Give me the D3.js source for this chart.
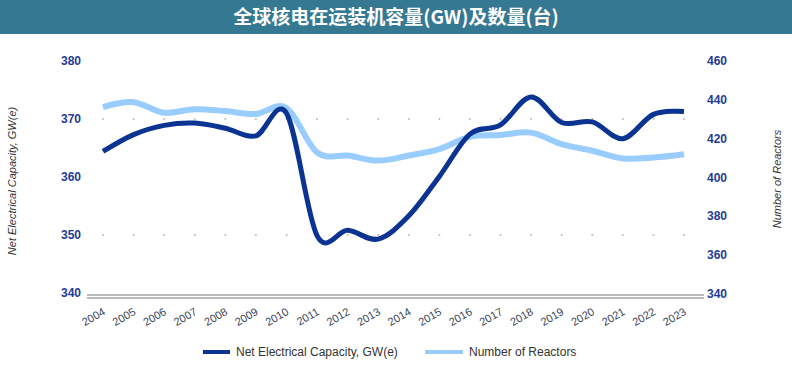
<!DOCTYPE html>
<html>
<head>
<meta charset="utf-8">
<script src="https://cdn.jsdelivr.net/npm/d3@7"></script>
<style>
  body { margin: 0; background: #fff; }
  svg { display: block; font-family: Arial, "Liberation Sans", sans-serif; }
</style>
</head>
<body>
<div id="chart"></div>
<script>
// data
const years = ["2004","2005","2006","2007","2008","2009","2010","2011","2012","2013",
               "2014","2015","2016","2017","2018","2019","2020","2021","2022","2023"];
const capacity = [364.4, 367.3, 368.9, 369.3, 368.4, 367.1, 371.0, 349.9, 350.8, 349.3,
                  353.3, 360.1, 367.4, 369.0, 373.8, 369.4, 369.5, 366.6, 370.8, 371.3];
const reactors = [436.3, 438.8, 433.4, 435.2, 434.2, 432.7, 435.8, 412.9, 411.3, 408.7,
                  411.3, 414.6, 421.0, 421.9, 423.1, 417.2, 413.8, 409.8, 410.3, 412.0];
const leftTicks = [340, 350, 360, 370, 380];
const rightTicks = [340, 360, 380, 400, 420, 440, 460];
const gridValues = [350, 370];
const seriesNames = ["Net Electrical Capacity, GW(e)", "Number of Reactors"];

const width = 792, height = 366;
const darkBlue = "#0a3392", lightBlue = "#99ccff";

const svg = d3.select("#chart").append("svg")
    .attr("width", width)
    .attr("height", height);

// title bar
svg.append("rect")
    .attr("x", 0).attr("y", 0)
    .attr("width", width).attr("height", 34)
    .attr("fill", "#357892");
svg.append("text")
    .attr("x", width / 2).attr("y", 24)
    .attr("text-anchor", "middle")
    .attr("fill", "#fff")
    .style("font-family", "'Noto Sans CJK SC', sans-serif")
    .style("font-size", "19px")
    .style("font-weight", "bold")
    .text("全球核电在运装机容量(GW)及数量(台)");

const x = d3.scalePoint().domain(years).range([103, 684]);
const yL = d3.scaleLinear().domain([340, 380]).range([293, 61]);
const yR = d3.scaleLinear().domain([340, 460]).range([294, 61]);

// dotted gridlines
gridValues.forEach(v => {
    svg.append("g").selectAll("circle")
        .data(years)
        .enter().append("circle")
        .attr("cx", d => x(d))
        .attr("cy", yL(v))
        .attr("r", 1)
        .attr("fill", "#bbb");
});

// double base line
[295, 298].forEach(yy => {
    svg.append("line")
        .attr("x1", 87).attr("x2", 704)
        .attr("y1", yy).attr("y2", yy)
        .attr("stroke", "#777")
        .attr("stroke-width", 1.2);
});

// left axis labels
svg.append("g").selectAll("text")
    .data(leftTicks)
    .enter().append("text")
    .attr("x", 81)
    .attr("y", d => yL(d) + 4)
    .attr("text-anchor", "end")
    .attr("fill", "#1f3c98")
    .style("font-size", "12px")
    .style("font-weight", "bold")
    .text(d => d);

// right axis labels
svg.append("g").selectAll("text")
    .data(rightTicks)
    .enter().append("text")
    .attr("x", 707)
    .attr("y", d => yR(d) + 4)
    .attr("text-anchor", "start")
    .attr("fill", "#1f3c98")
    .style("font-size", "12px")
    .style("font-weight", "bold")
    .text(d => d);

// x labels, rotated
svg.append("g").selectAll("text")
    .data(years)
    .enter().append("text")
    .attr("transform", d => `translate(${x(d) + 3},${314}) rotate(-30)`)
    .attr("text-anchor", "end")
    .attr("fill", "#3a3f55")
    .style("font-size", "11px")
    .text(d => d);

// axis titles
svg.append("text")
    .attr("transform", "translate(16,181) rotate(-90)")
    .attr("text-anchor", "middle")
    .attr("fill", "#333")
    .style("font-size", "11px")
    .style("font-style", "italic")
    .text("Net Electrical Capacity, GW(e)");
svg.append("text")
    .attr("transform", "translate(781,179) rotate(-90)")
    .attr("text-anchor", "middle")
    .attr("fill", "#333")
    .style("font-size", "11px")
    .style("font-style", "italic")
    .text("Number of Reactors");

// lines
const lineL = d3.line()
    .x((d, i) => x(years[i]))
    .y(d => yL(d))
    .curve(d3.curveCardinal.tension(0));
const lineR = d3.line()
    .x((d, i) => x(years[i]))
    .y(d => yR(d))
    .curve(d3.curveCardinal.tension(0));

svg.append("path")
    .datum(reactors)
    .attr("d", lineR)
    .attr("fill", "none")
    .attr("stroke", lightBlue)
    .attr("stroke-width", 6);

svg.append("path")
    .datum(capacity)
    .attr("d", lineL)
    .attr("fill", "none")
    .attr("stroke", darkBlue)
    .attr("stroke-width", 5);

// legend
const legend = [
    { name: seriesNames[0], color: darkBlue, x: 203, w: 27, tx: 236 },
    { name: seriesNames[1], color: lightBlue, x: 425, w: 38, tx: 469 }
];
legend.forEach(l => {
    svg.append("rect")
        .attr("x", l.x).attr("y", 350)
        .attr("width", l.w).attr("height", 4)
        .attr("fill", l.color);
    svg.append("text")
        .attr("x", l.tx).attr("y", 356)
        .attr("fill", "#333")
        .style("font-size", "12px")
        .text(l.name);
});
</script>
</body>
</html>
